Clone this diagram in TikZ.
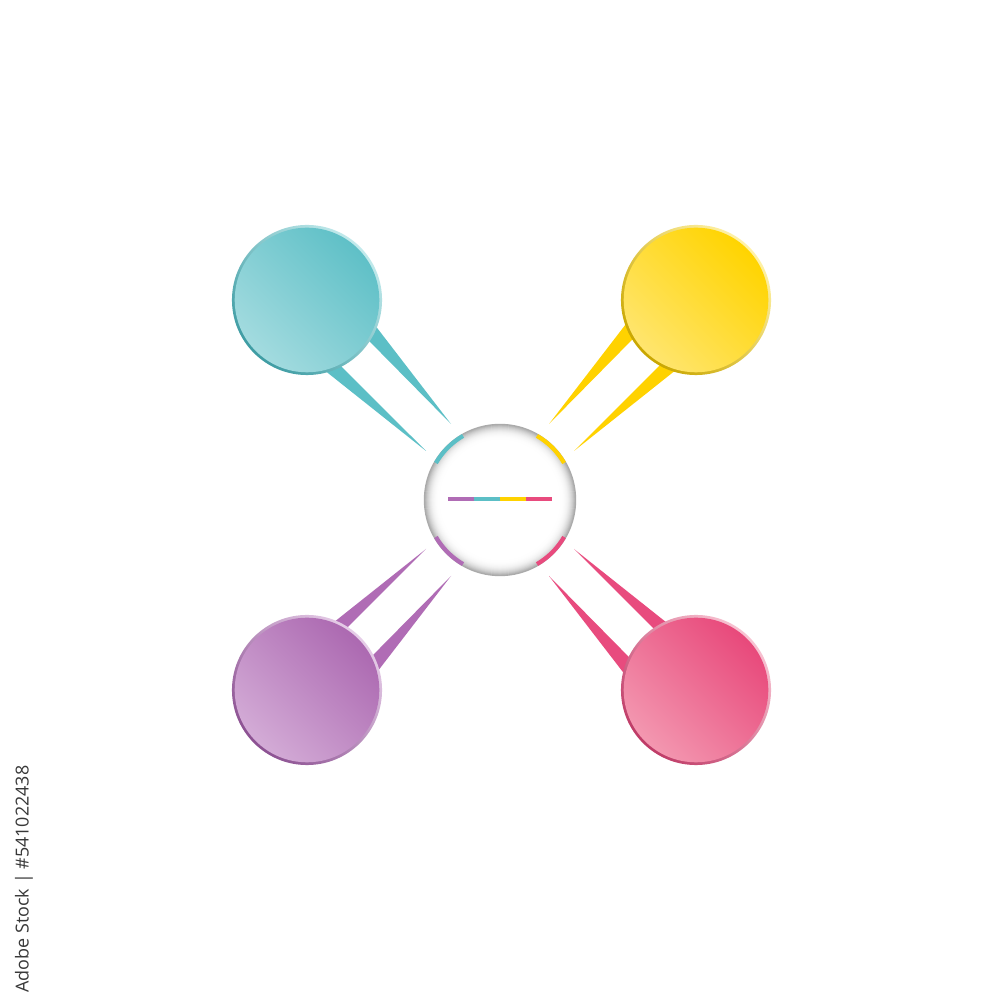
\documentclass[tikz,border=0pt]{standalone}
\usepackage{fontspec}
\newfontfamily\idfont{Open Sans}
\definecolor{tealD}{HTML}{5FC0C7}
\definecolor{tealL}{HTML}{A3DBDF}
\definecolor{tealRD}{HTML}{3E9CA3}
\definecolor{tealRL}{HTML}{C2EAEC}
\definecolor{tealS}{HTML}{5CBFC6}
\definecolor{yelD}{HTML}{FFD400}
\definecolor{yelL}{HTML}{FFE56E}
\definecolor{yelRD}{HTML}{C9A600}
\definecolor{yelRL}{HTML}{FFF2A8}
\definecolor{yelS}{HTML}{FFD200}
\definecolor{purD}{HTML}{AC69B1}
\definecolor{purL}{HTML}{D3ABD6}
\definecolor{purRD}{HTML}{8C5192}
\definecolor{purRL}{HTML}{E6CDE8}
\definecolor{purS}{HTML}{B06CB5}
\definecolor{pinD}{HTML}{E8497B}
\definecolor{pinL}{HTML}{F397B0}
\definecolor{pinRD}{HTML}{BF3B67}
\definecolor{pinRL}{HTML}{F8C3D2}
\definecolor{pinS}{HTML}{E84B7E}
\begin{document}
\begin{tikzpicture}[x=0.01cm,y=0.01cm,
  rim/.style={circle, inner sep=0pt, outer sep=0pt, minimum size=1.5cm},
  face/.style={circle, inner sep=0pt, outer sep=0pt, minimum size=1.445cm},
  hub/.style={circle, inner sep=0pt, outer sep=0pt, minimum size=1.52cm, fill=white},
  seg/.style={line width=1.2pt, line cap=butt},
  bar/.style={line width=1pt, line cap=butt},
  idtext/.style={rotate=90, inner sep=0pt, text=black!78, font=\idfont\fontsize{5.1}{6}\selectfont}
]
\useasboundingbox (0,0) rectangle (1000,1000);
\fill[white] (0,0) rectangle (1000,1000);

% spike tips and bases
\coordinate (t1) at (451,576); \coordinate (t1a) at (358.5,696.2); \coordinate (t1b) at (344.5,684.0);
\coordinate (t2) at (426,549); \coordinate (t2a) at (313.6,661.3); \coordinate (t2b) at (301.6,647.9);
\coordinate (y1) at (549,576); \coordinate (y1a) at (641.5,696.2); \coordinate (y1b) at (655.5,684.0);
\coordinate (y2) at (574,549); \coordinate (y2a) at (686.4,661.3); \coordinate (y2b) at (698.4,647.9);
\coordinate (p1) at (451,424); \coordinate (p1a) at (358.5,303.8); \coordinate (p1b) at (344.5,316.0);
\coordinate (p2) at (426,451); \coordinate (p2a) at (313.6,338.7); \coordinate (p2b) at (301.6,352.1);
\coordinate (k1) at (549,424); \coordinate (k1a) at (641.5,303.8); \coordinate (k1b) at (655.5,316.0);
\coordinate (k2) at (574,451); \coordinate (k2a) at (686.4,338.7); \coordinate (k2b) at (698.4,352.1);

\fill[tealS] (t1) -- (t1a) -- (t1b) -- cycle;
\fill[tealS] (t2) -- (t2a) -- (t2b) -- cycle;
\fill[yelS] (y1) -- (y1a) -- (y1b) -- cycle;
\fill[yelS] (y2) -- (y2a) -- (y2b) -- cycle;
\fill[purS] (p1) -- (p1a) -- (p1b) -- cycle;
\fill[purS] (p2) -- (p2a) -- (p2b) -- cycle;
\fill[pinS] (k1) -- (k1a) -- (k1b) -- cycle;
\fill[pinS] (k2) -- (k2a) -- (k2b) -- cycle;

% outer circles
\node[rim, top color=tealRL, bottom color=tealRD, shading angle=-45] (T) at (307,700) {};
\node[face, top color=tealD, bottom color=tealL, shading angle=-45] (Tf) at (T) {};
\node[rim, top color=yelRL, bottom color=yelRD, shading angle=-45] (Y) at (696,700) {};
\node[face, top color=yelD, bottom color=yelL, shading angle=-45] (Yf) at (Y) {};
\node[rim, top color=purRL, bottom color=purRD, shading angle=-45] (P) at (307,310) {};
\node[face, top color=purD, bottom color=purL, shading angle=-45] (Pf) at (P) {};
\node[rim, top color=pinRL, bottom color=pinRD, shading angle=-45] (K) at (696,310) {};
\node[face, top color=pinD, bottom color=pinL, shading angle=-45] (Kf) at (K) {};

% centre circle with inner shadow
\node[hub] (C) at (500,500) {};
\foreach \r in {58,...,75} {
  \pgfmathsetmacro\pct{33*((\r-58)/17)^3}
  \draw[black!\pct, line width=1.4*0.2845pt] (C.center) circle[radius=\r+0.5];
}
\draw[seg, tealS] ([shift={(120:74)}]C.center) arc[start angle=120, end angle=150, radius=74];
\draw[seg, yelS] ([shift={(30:74)}]C.center) arc[start angle=30, end angle=60, radius=74];
\draw[seg, purS] ([shift={(210:74)}]C.center) arc[start angle=210, end angle=240, radius=74];
\draw[seg, pinS] ([shift={(300:74)}]C.center) arc[start angle=300, end angle=330, radius=74];

\draw[bar, purS] (448,501) -- (474,501);
\draw[bar, tealS] (474,501) -- (500,501);
\draw[bar, yelS] (500,501) -- (526,501);
\draw[bar, pinS] (526,501) -- (552,501);

\node[idtext] (id) at (24,121) {Adobe Stock | \#541022438};
\end{tikzpicture}
\end{document}
